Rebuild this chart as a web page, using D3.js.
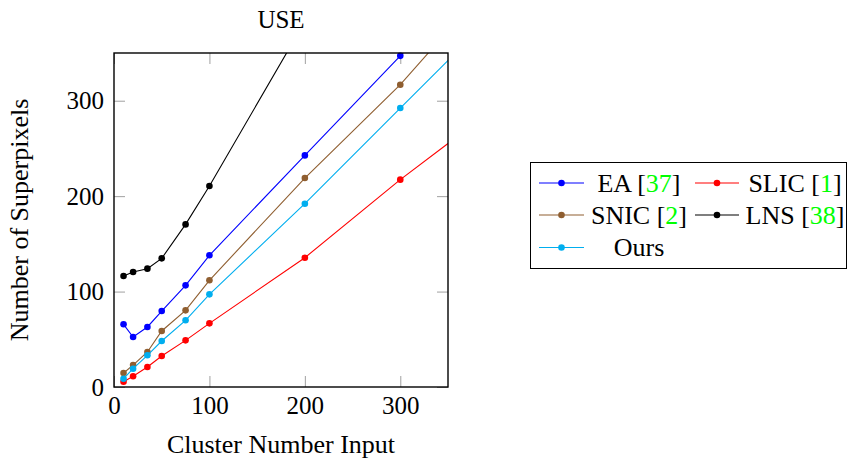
<!DOCTYPE html>
<html>
<head>
<meta charset="utf-8">
<script src="https://cdn.jsdelivr.net/npm/d3@7"></script>
<style>
  body { margin: 0; background: #fff; }
  text { font-family: "Liberation Serif", "Times New Roman", serif; }
</style>
</head>
<body>
<script>
// values (400 column only used for the part leaving the frame)
var clusterInput = [10, 20, 35, 50, 75, 100, 200, 300, 400];
var ea   = [65.7, 52.4, 62.9, 79.6, 106.5, 138, 242.7, 347, 450];
var slic = [5.6, 11.2, 21, 32.5, 48.9, 66.7, 135.5, 217.3, 293];
var snic = [14.7, 23, 36.7, 58.7, 80.3, 111.8, 219, 316.8, 430];
var lns  = [116.3, 120.5, 124, 134.8, 170.4, 210.6, 383, 560, 740];
var ours = [8.7, 19.2, 33.2, 48.2, 69.9, 97.1, 192.1, 292.3, 392];
var xTicks = [0, 100, 200, 300];
var yTicks = [0, 100, 200, 300];

//plot frame (top is a reserved window name, so p-prefixed)
var width = 849,
    height = 458,
    pLeft = 114, pRight = 448, pTop = 53, pBottom = 387;

var series = [
  {name: "EA", ref: "37", values: ea, color: "#0000ff"},
  {name: "SLIC", ref: "1", values: slic, color: "#ff0000"},
  {name: "SNIC", ref: "2", values: snic, color: "#8f5e30"},
  {name: "LNS", ref: "38", values: lns, color: "#000000"},
  {name: "Ours", ref: null, values: ours, color: "#00aeef"}
];

var svg = d3.select('body').append('svg')
    .attr('width', width)
    .attr('height', height);

var x = d3.scaleLinear().domain([0, 350]).range([pLeft, pRight]);
var y = d3.scaleLinear().domain([0, 350]).range([pBottom, pTop]);

//axes with inner gray ticks
var styleAxis = function(g){
  g.select('.domain').remove();
  g.selectAll('.tick line').attr('stroke', '#a0a0a0').attr('stroke-width', 1);
  g.selectAll('.tick text').attr('font-size', 25).attr('fill', '#000')
    .style('font-family', '"Liberation Serif", serif');
};

svg.append('g').attr('transform', 'translate(0,' + pBottom + ')')
  .call(d3.axisBottom(x).tickValues(xTicks).tickSize(-11).tickPadding(9))
  .call(styleAxis);
svg.append('g').attr('transform', 'translate(0,' + pTop + ')')
  .call(d3.axisTop(x).tickValues(xTicks).tickSize(-11).tickFormat(''))
  .call(styleAxis);
svg.append('g').attr('transform', 'translate(' + pLeft + ',0)')
  .call(d3.axisLeft(y).tickValues(yTicks).tickSize(-11).tickPadding(10))
  .call(styleAxis);
svg.append('g').attr('transform', 'translate(' + pRight + ',0)')
  .call(d3.axisRight(y).tickValues(yTicks).tickSize(-11).tickFormat(''))
  .call(styleAxis);

svg.append('clipPath').attr('id', 'plotclip')
  .append('rect')
  .attr('x', pLeft).attr('y', pTop)
  .attr('width', pRight - pLeft).attr('height', pBottom - pTop);

var line = d3.line()
  .x(function(d){ return x(d[0]); })
  .y(function(d){ return y(d[1]); });

series.forEach(function(s){
  var pts = clusterInput.map(function(c, i){ return [c, s.values[i]]; });
  svg.append('path')
    .datum(pts)
    .attr('clip-path', 'url(#plotclip)')
    .attr('fill', 'none')
    .attr('stroke', s.color)
    .attr('stroke-width', 1.1)
    .attr('d', line);
  svg.selectAll(null)
    .data(pts.filter(function(d){ return d[0] <= 350 && d[1] <= 350; }))
    .enter().append('circle')
    .attr('cx', function(d){ return x(d[0]); })
    .attr('cy', function(d){ return y(d[1]); })
    .attr('r', 3.3)
    .attr('fill', s.color);
});

svg.append('rect')
  .attr('x', pLeft).attr('y', pTop)
  .attr('width', pRight - pLeft).attr('height', pBottom - pTop)
  .attr('fill', 'none').attr('stroke', '#000').attr('stroke-width', 1.4);

//title and axis labels
svg.append('text').attr('x', (pLeft + pRight) / 2).attr('y', 28)
  .attr('text-anchor', 'middle').attr('font-size', 25).text('USE');
svg.append('text').attr('x', (pLeft + pRight) / 2).attr('y', 453)
  .attr('text-anchor', 'middle').attr('font-size', 26).text('Cluster Number Input');
svg.append('text')
  .attr('transform', 'translate(28,' + (pTop + pBottom) / 2 + ') rotate(-90)')
  .attr('text-anchor', 'middle').attr('font-size', 26).text('Number of Superpixels');

//legend
var legend = svg.append('g');
legend.append('rect')
  .attr('x', 530.5).attr('y', 162.5).attr('width', 316).attr('height', 106)
  .attr('fill', '#fff').attr('stroke', '#000').attr('stroke-width', 1);

var cols = [{line0: 539, line1: 584, textX: 639}, {line0: 695, line1: 739, textX: 795}];
var rows = [183, 215, 247.5];

series.forEach(function(s, i){
  var c = cols[i % 2], r = rows[Math.floor(i / 2)];
  legend.append('line')
    .attr('x1', c.line0).attr('x2', c.line1).attr('y1', r).attr('y2', r)
    .attr('stroke', s.color).attr('stroke-width', 1.1);
  legend.append('circle')
    .attr('cx', (c.line0 + c.line1) / 2).attr('cy', r).attr('r', 3.3)
    .attr('fill', s.color);
  var t = legend.append('text')
    .attr('x', c.textX).attr('y', r + 8.5)
    .attr('text-anchor', 'middle').attr('font-size', 26);
  if (s.ref === null) {
    t.text(s.name);
  } else {
    t.append('tspan').text(s.name + ' [');
    t.append('tspan').attr('fill', '#00ff00').text(s.ref);
    t.append('tspan').text(']');
  }
});
</script>
</body>
</html>
